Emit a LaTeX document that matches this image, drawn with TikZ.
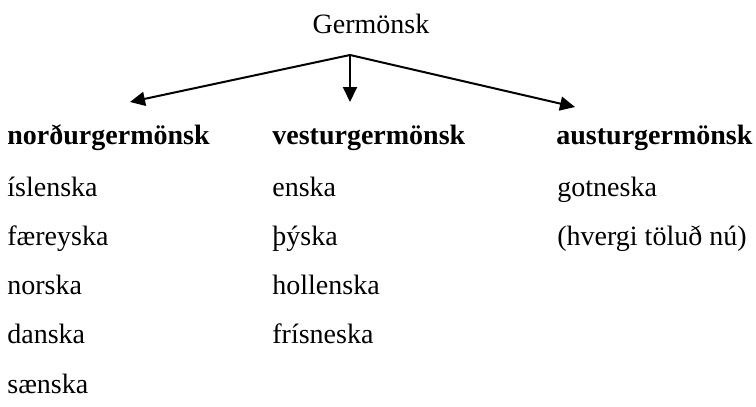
\documentclass[tikz,border=0pt]{standalone}
\usepackage{fontspec}
\setmainfont{Liberation Serif}
\usetikzlibrary{arrows.meta}
\begin{document}
\begin{tikzpicture}[x=0.5pt,y=-0.5pt,
  lang/.style={anchor=base west,inner sep=0pt,font=\fontsize{14}{16}\selectfont},
  head/.style={lang,font=\fontsize{14}{16}\selectfont\bfseries},
  branch/.style={line width=1pt,-{Triangle[length=7.5pt,width=7pt]}}]
\useasboundingbox (0,0) rectangle (756,407);
\node[anchor=base,inner sep=0pt,font=\fontsize{14}{16}\selectfont] (root) at (371,33) {Germönsk};
\coordinate (fork) at (350,55);
\coordinate (tn) at (130,102);
\coordinate (tv) at (350,102);
\coordinate (ta) at (575,107);
\draw[branch] (fork) -- (tn);
\draw[branch] (fork) -- (tv);
\draw[branch] (fork) -- (ta);
% north
\node[head] (n0) at (7,144) {norðurgermönsk};
\node[lang] (n1) at (7,196) {íslenska};
\node[lang] (n2) at (7,245) {færeyska};
\node[lang] (n3) at (7,294) {norska};
\node[lang] (n4) at (7,343) {danska};
\node[lang] (n5) at (7,393) {sænska};
% west
\node[head] (v0) at (272,144) {vesturgermönsk};
\node[lang] (v1) at (272,196) {enska};
\node[lang] (v2) at (272,245) {þýska};
\node[lang] (v3) at (272,294) {hollenska};
\node[lang] (v4) at (272,343) {frísneska};
% east
\node[head] (a0) at (556,144) {austurgermönsk};
\node[lang] (a1) at (557,196) {gotneska};
\node[lang] (a2) at (557,245) {(hvergi töluð nú)};
\end{tikzpicture}
\end{document}
